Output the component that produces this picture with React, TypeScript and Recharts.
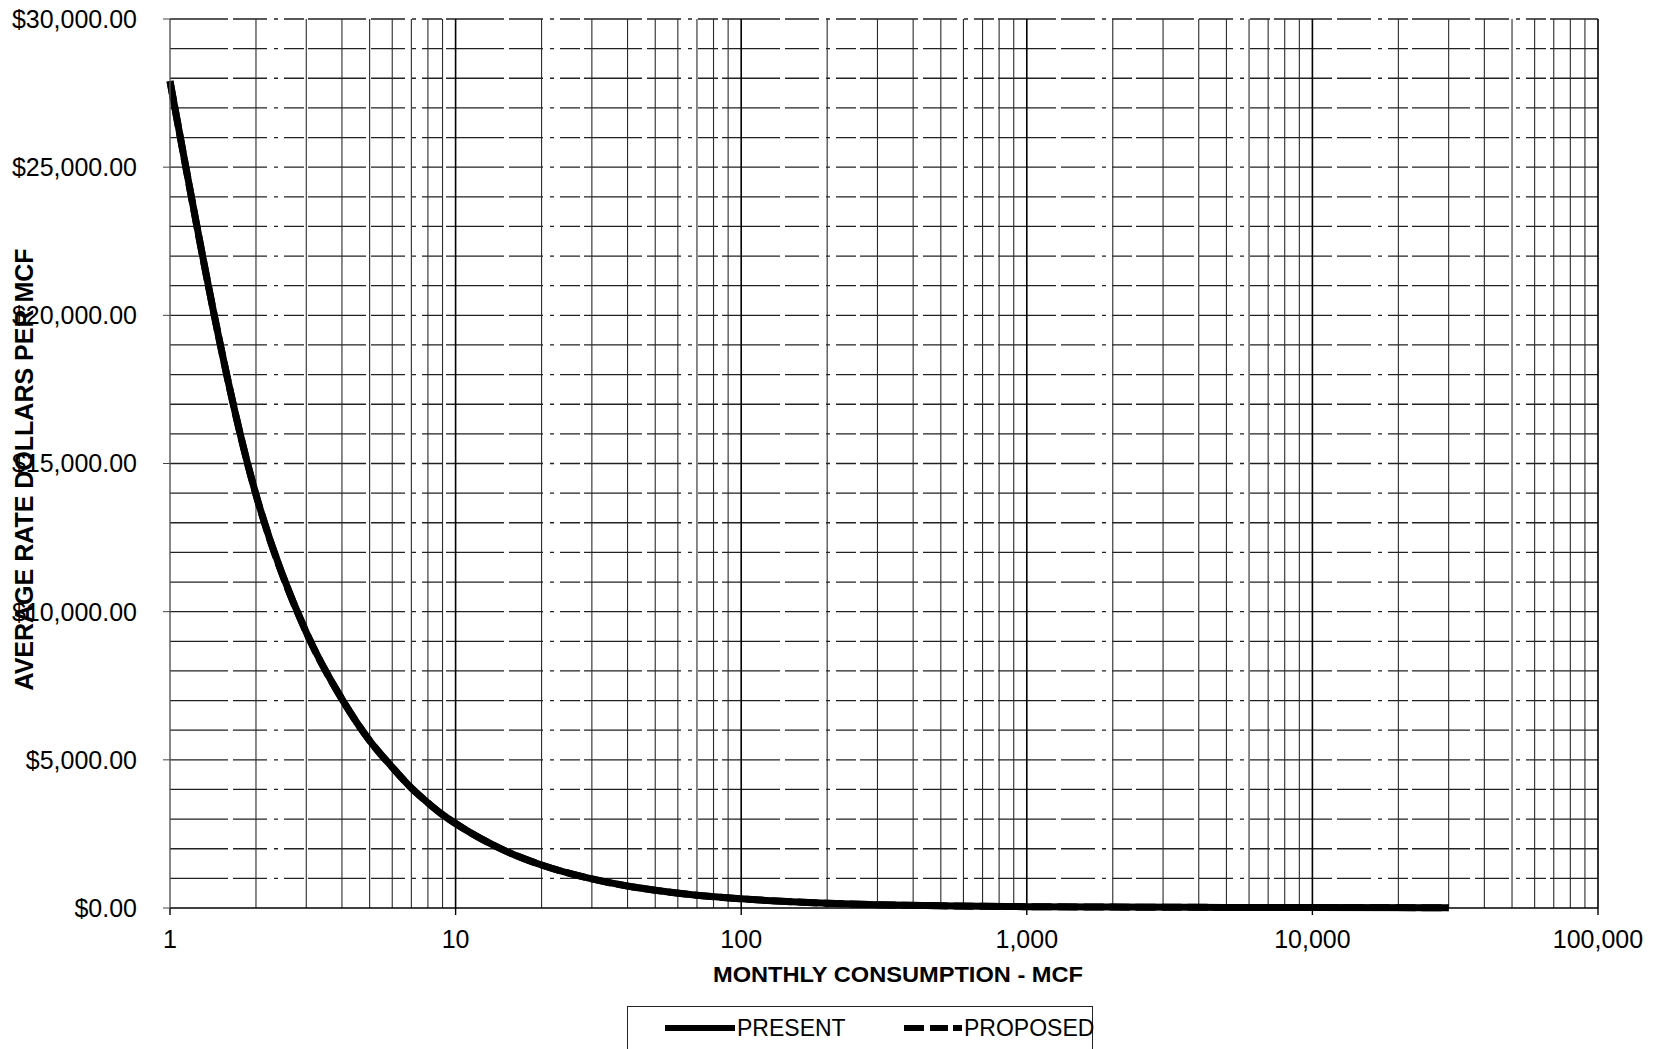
import { LineChart, Line, XAxis, YAxis, ReferenceLine, Label } from "recharts";

// Monthly consumption (MCF) and average rate per MCF for each tariff
const consumption = [
  1, 2, 3, 4, 5, 6, 7, 8, 9, 10, 15, 20, 30, 40, 50, 70, 100, 150, 200, 300,
  500, 700, 1000, 2000, 5000, 10000, 30000,
];
const presentRate = [
  27900, 13950, 9300, 7050, 5650, 4750, 4050, 3550, 3150, 2850, 1920, 1450,
  980, 740, 600, 430, 310, 210, 160, 110, 75, 55, 45, 30, 20, 15, 12,
];
const proposedRate = [
  27900, 13950, 9300, 7050, 5650, 4750, 4050, 3550, 3150, 2850, 1920, 1450,
  980, 740, 600, 430, 310, 210, 160, 110, 75, 55, 45, 30, 20, 15, 12,
];

const xTicks = [1, 10, 100, 1000, 10000, 100000];
const yTicks = [0, 5000, 10000, 15000, 20000, 25000, 30000];

const decades = [1, 10, 100, 1000, 10000];
const steps = [2, 3, 4, 5, 6, 7, 8, 9];
const xMinorGrid = decades.flatMap((d) => steps.map((s) => s * d));
const xMajorGrid = [10, 100, 1000, 10000, 100000];
const yGrid = Array.from({ length: 30 }, (_, i) => (i + 1) * 1000);

const data = consumption.map((x, i) => ({
  x,
  present: presentRate[i],
  proposed: proposedRate[i],
}));

const FONT = '"Liberation Sans", Arial, Helvetica, sans-serif';

const money = (v: number) =>
  `$${v.toLocaleString("en-US", { minimumFractionDigits: 2, maximumFractionDigits: 2 })}`;

const XTitle = ({ viewBox }: any) => (
  <text
    x={viewBox.x + viewBox.width / 2 + 14}
    y={viewBox.y + 74}
    textAnchor="middle"
    fontFamily={FONT}
    fontWeight="bold"
    fontSize={22}
    textLength={370}
    lengthAdjust="spacingAndGlyphs"
    fill="#000"
  >
    MONTHLY CONSUMPTION - MCF
  </text>
);

const YTitle = ({ viewBox }: any) => {
  const cx = 24;
  const cy = viewBox.y + viewBox.height / 2 + 6;
  return (
    <text
      x={cx}
      y={cy}
      transform={`rotate(-90 ${cx} ${cy})`}
      textAnchor="middle"
      dominantBaseline="central"
      fontFamily={FONT}
      fontWeight="bold"
      fontSize={25}
      fill="#000"
    >
      AVERAGE RATE DOLLARS PER MCF
    </text>
  );
};

const legendItems = [
  { name: "PRESENT", dash: undefined as string | undefined },
  { name: "PROPOSED", dash: "20 6 18 5 6 0" },
];

export default function App() {
  return (
    <div style={{ position: "absolute", left: 0, top: 0, width: 1659, height: 1049, background: "#fff", overflow: "hidden" }}>
      <LineChart
        width={1659}
        height={1049}
        data={data}
        margin={{ top: 19, right: 61, bottom: 0, left: 0 }}
      >
        {yGrid.map((v) => (
          <ReferenceLine
            key={`h${v}`}
            y={v}
            stroke="#222"
            strokeWidth={1.3}
            strokeDasharray="58 5 34 7 4 6 20 4"
          />
        ))}
        {xMinorGrid.map((v) => (
          <ReferenceLine key={`v${v}`} x={v} stroke="#2a2a2a" strokeWidth={1.1} />
        ))}
        {xMajorGrid.map((v) => (
          <ReferenceLine key={`m${v}`} x={v} stroke="#000" strokeWidth={1.6} />
        ))}
        <XAxis
          dataKey="x"
          type="number"
          scale="log"
          domain={[1, 100000]}
          ticks={xTicks}
          tickFormatter={(v: number) => v.toLocaleString("en-US")}
          height={141}
          tickSize={7}
          tickMargin={15}
          axisLine={{ stroke: "#000", strokeWidth: 1.6 }}
          tickLine={{ stroke: "#000", strokeWidth: 1.4 }}
          tick={{ fill: "#000", fontSize: 25, fontFamily: FONT }}
          interval={0}
        >
          <Label content={<XTitle />} />
        </XAxis>
        <YAxis
          type="number"
          domain={[0, 30000]}
          ticks={yTicks}
          tickFormatter={money}
          width={170}
          tickSize={7}
          tickMargin={26}
          axisLine={{ stroke: "#555", strokeWidth: 1.4 }}
          tickLine={{ stroke: "#444", strokeWidth: 1 }}
          tick={{ fill: "#000", fontSize: 25, fontFamily: FONT }}
          interval={0}
        >
          <Label content={<YTitle />} />
        </YAxis>
        <Line
          type="monotone"
          dataKey="present"
          name="PRESENT"
          stroke="#000"
          strokeWidth={7}
          dot={false}
          activeDot={false}
          isAnimationActive={false}
          strokeLinejoin="round"
        />
        <Line
          type="monotone"
          dataKey="proposed"
          name="PROPOSED"
          stroke="#000"
          strokeWidth={7}
          strokeDasharray="20 6"
          dot={false}
          activeDot={false}
          isAnimationActive={false}
        />
      </LineChart>
      <div
        style={{
          position: "absolute",
          left: 627,
          top: 1006,
          width: 466,
          height: 70,
          border: "1.5px solid #222",
          boxSizing: "border-box",
          fontFamily: FONT,
          fontSize: 23,
          color: "#000",
        }}
      >
        {legendItems.map((item, i) => (
          <div
            key={item.name}
            style={{
              position: "absolute",
              left: i === 0 ? 35 : 262,
              top: 8,
              display: "flex",
              alignItems: "center",
              height: 26,
            }}
          >
            <svg width={74} height={10} style={{ display: "block" }}>
              <line
                x1={i === 0 ? 2 : 14}
                y1={5}
                x2={72}
                y2={5}
                stroke="#000"
                strokeWidth={6}
                strokeDasharray={item.dash}
              />
            </svg>
            <span style={{ lineHeight: "26px" }}>{item.name}</span>
          </div>
        ))}
      </div>
    </div>
  );
}
